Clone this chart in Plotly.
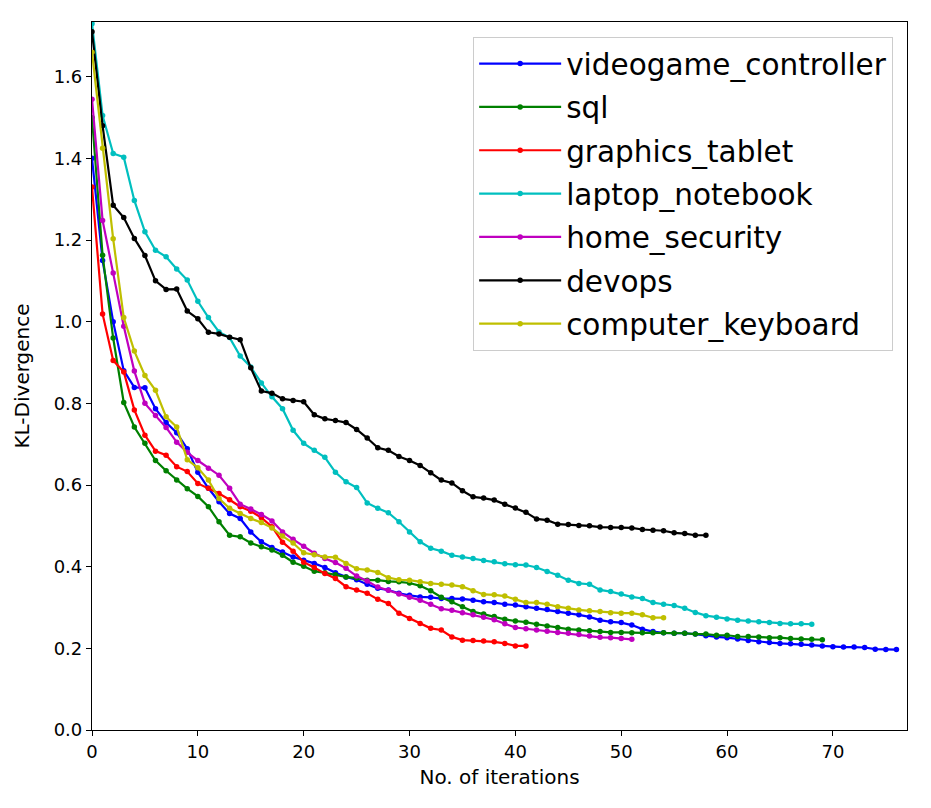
import plotly.graph_objects as go

series_names = ["videogame_controller", "sql", "graphics_tablet", "laptop_notebook",
                "home_security", "devops", "computer_keyboard"]
series_colors = ["#0000FF", "#008000", "#FF0000", "#00BFBF", "#BF00BF", "#000000", "#BFBF00"]

videogame_controller = [1.40, 1.150, 1.000, 0.880, 0.839, 0.838, 0.787, 0.753, 0.728, 0.689,
                        0.631, 0.592, 0.559, 0.530, 0.518, 0.485, 0.461, 0.447, 0.436, 0.424,
                        0.416, 0.408, 0.398, 0.385, 0.375, 0.368, 0.357, 0.347, 0.343, 0.335,
                        0.330, 0.326, 0.325, 0.322, 0.322, 0.321, 0.318, 0.314, 0.312, 0.308,
                        0.306, 0.302, 0.298, 0.295, 0.290, 0.286, 0.282, 0.277, 0.269, 0.265,
                        0.263, 0.257, 0.247, 0.241, 0.238, 0.237, 0.237, 0.235, 0.231, 0.228,
                        0.226, 0.223, 0.219, 0.216, 0.214, 0.212, 0.211, 0.210, 0.208, 0.206,
                        0.204, 0.203, 0.203, 0.202, 0.198, 0.197, 0.197]
sql = [1.50, 1.163, 0.960, 0.802, 0.742, 0.702, 0.660, 0.635, 0.612, 0.591,
       0.572, 0.547, 0.510, 0.477, 0.473, 0.458, 0.449, 0.441, 0.428, 0.411,
       0.401, 0.389, 0.385, 0.380, 0.375, 0.372, 0.367, 0.367, 0.364, 0.363,
       0.360, 0.353, 0.341, 0.325, 0.314, 0.302, 0.290, 0.284, 0.278, 0.271,
       0.267, 0.264, 0.259, 0.255, 0.251, 0.247, 0.245, 0.243, 0.241, 0.239,
       0.239, 0.238, 0.238, 0.238, 0.238, 0.237, 0.237, 0.235, 0.235, 0.232,
       0.232, 0.229, 0.229, 0.228, 0.226, 0.226, 0.224, 0.223, 0.222, 0.221]
graphics_tablet = [1.33, 1.019, 0.905, 0.877, 0.784, 0.722, 0.683, 0.673, 0.645, 0.633,
                   0.604, 0.592, 0.579, 0.564, 0.547, 0.536, 0.520, 0.498, 0.460, 0.438,
                   0.411, 0.398, 0.383, 0.371, 0.351, 0.343, 0.335, 0.320, 0.310, 0.286,
                   0.273, 0.261, 0.249, 0.245, 0.228, 0.220, 0.219, 0.218, 0.216, 0.212,
                   0.206, 0.206]
laptop_notebook = [1.73, 1.505, 1.412, 1.403, 1.297, 1.220, 1.175, 1.159, 1.129, 1.102,
                   1.050, 1.010, 0.975, 0.961, 0.916, 0.889, 0.850, 0.816, 0.787, 0.734,
                   0.702, 0.685, 0.668, 0.631, 0.608, 0.594, 0.556, 0.543, 0.532, 0.510,
                   0.485, 0.461, 0.445, 0.438, 0.428, 0.424, 0.420, 0.415, 0.412, 0.407,
                   0.405, 0.404, 0.398, 0.388, 0.379, 0.367, 0.359, 0.357, 0.343, 0.339,
                   0.333, 0.326, 0.322, 0.312, 0.308, 0.305, 0.298, 0.288, 0.280, 0.276,
                   0.272, 0.269, 0.267, 0.265, 0.263, 0.261, 0.260, 0.260, 0.259]
home_security = [1.545, 1.248, 1.119, 0.989, 0.879, 0.800, 0.770, 0.741, 0.705, 0.680,
                 0.660, 0.641, 0.624, 0.592, 0.553, 0.541, 0.528, 0.512, 0.485, 0.467,
                 0.450, 0.433, 0.420, 0.410, 0.396, 0.377, 0.365, 0.350, 0.342, 0.333,
                 0.325, 0.318, 0.308, 0.297, 0.293, 0.287, 0.282, 0.276, 0.270, 0.260,
                 0.251, 0.248, 0.245, 0.242, 0.239, 0.237, 0.234, 0.230, 0.227, 0.226,
                 0.224, 0.222]
devops = [1.71, 1.48, 1.285, 1.255, 1.204, 1.162, 1.100, 1.079, 1.080, 1.026,
          1.007, 0.974, 0.970, 0.962, 0.956, 0.887, 0.830, 0.825, 0.811, 0.807,
          0.804, 0.772, 0.762, 0.758, 0.753, 0.736, 0.715, 0.691, 0.685, 0.670,
          0.660, 0.648, 0.630, 0.612, 0.605, 0.586, 0.571, 0.568, 0.563, 0.553,
          0.544, 0.533, 0.517, 0.514, 0.504, 0.503, 0.501, 0.500, 0.497, 0.496,
          0.496, 0.495, 0.491, 0.489, 0.488, 0.483, 0.481, 0.477, 0.477]
computer_keyboard = [1.66, 1.425, 1.203, 1.010, 0.928, 0.868, 0.832, 0.767, 0.742, 0.662,
                     0.642, 0.612, 0.567, 0.543, 0.530, 0.518, 0.508, 0.495, 0.475, 0.458,
                     0.434, 0.429, 0.424, 0.423, 0.408, 0.395, 0.392, 0.386, 0.373, 0.368,
                     0.367, 0.363, 0.359, 0.357, 0.355, 0.351, 0.341, 0.332, 0.331, 0.328,
                     0.320, 0.312, 0.312, 0.308, 0.302, 0.298, 0.294, 0.292, 0.290, 0.287,
                     0.286, 0.286, 0.282, 0.275, 0.275]

x_ticks = [0, 10, 20, 30, 40, 50, 60, 70]
y_ticks = [0.0, 0.2, 0.4, 0.6, 0.8, 1.0, 1.2, 1.4, 1.6]

all_series = [videogame_controller, sql, graphics_tablet, laptop_notebook,
              home_security, devops, computer_keyboard]

fig = go.Figure()
for name, color, vals in zip(series_names, series_colors, all_series):
    fig.add_trace(go.Scatter(
        x=list(range(len(vals))), y=vals, name=name, mode="lines+markers",
        line=dict(color=color, width=2.2), marker=dict(color=color, size=5.5),
        legendgroup=name,
    ))

axis_common = dict(showline=True, linecolor="black", linewidth=1.2, mirror=True,
                   ticks="outside", ticklen=5, tickcolor="black", showgrid=False,
                   zeroline=False, tickfont=dict(family="DejaVu Sans", size=18, color="black"))

fig.update_layout(
    width=923, height=800,
    margin=dict(l=84, r=24, t=14, b=78),
    plot_bgcolor="white", paper_bgcolor="white",
    font=dict(family="DejaVu Sans", color="black"),
    xaxis=dict(range=[0, 77], tickvals=x_ticks,
               title=dict(text="No. of iterations", font=dict(size=20), standoff=9),
               **axis_common),
    yaxis=dict(range=[0, 1.734], tickvals=y_ticks, tickformat=".1f",
               title=dict(text="KL-Divergence", font=dict(size=20), standoff=18),
               **axis_common),
    legend=dict(x=0.983, y=0.979, xanchor="right", yanchor="top",
                bgcolor="white", bordercolor="#cccccc", borderwidth=1,
                font=dict(family="DejaVu Sans", size=29.5, color="black"),
                tracegroupgap=2, itemwidth=82),
    showlegend=True,
)

fig.write_html("out.html")
